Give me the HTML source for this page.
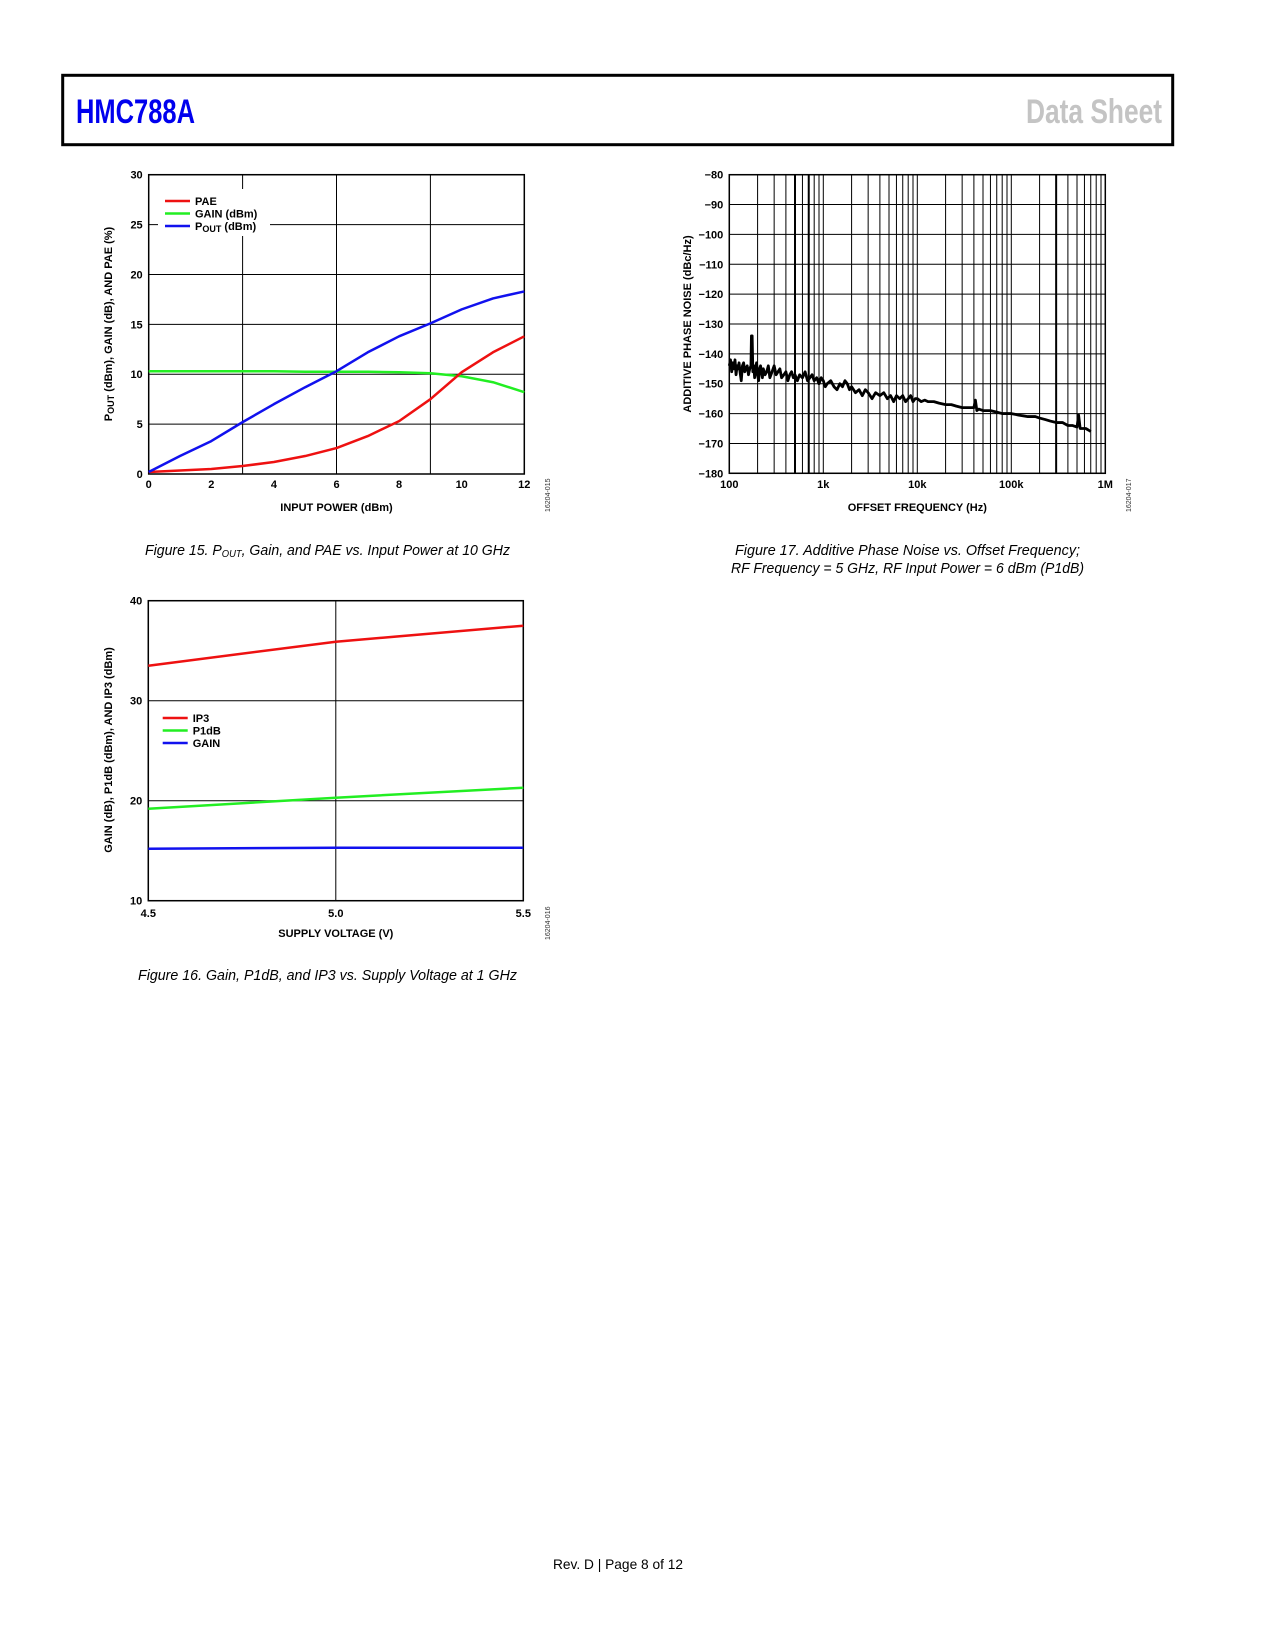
<!DOCTYPE html>
<html><head><meta charset="utf-8"><style>
html,body{margin:0;padding:0;background:#fff}
svg{display:block}
text{font-family:"Liberation Sans",sans-serif}
.tk{font-size:11px;font-weight:bold}
.cap{font-size:15px;font-style:italic}
</style></head><body>
<svg id="page" width="1275" height="1650" viewBox="0 0 1275 1650" xmlns="http://www.w3.org/2000/svg">
<rect x="62.7" y="75.3" width="1110" height="69.4" fill="none" stroke="#000" stroke-width="3"/>
<text x="76" y="123" font-size="34" font-weight="bold" fill="#0000ee" textLength="119" lengthAdjust="spacingAndGlyphs">HMC788A</text>
<text x="1026" y="123" font-size="34" font-weight="bold" fill="#c4c4c4" textLength="136" lengthAdjust="spacingAndGlyphs">Data Sheet</text>

<text class="cap" x="145" y="555" textLength="365" lengthAdjust="spacingAndGlyphs">Figure 15. P<tspan font-size="10" dy="2">OUT</tspan><tspan dy="-2">, Gain, and PAE vs. Input Power at 10 GHz</tspan></text>
<text class="cap" x="735" y="555" textLength="345" lengthAdjust="spacingAndGlyphs">Figure 17. Additive Phase Noise vs. Offset Frequency;</text>
<text class="cap" x="731" y="573" textLength="353" lengthAdjust="spacingAndGlyphs">RF Frequency = 5 GHz, RF Input Power = 6 dBm (P1dB)</text>
<text class="cap" x="138" y="980" textLength="379" lengthAdjust="spacingAndGlyphs">Figure 16. Gain, P1dB, and IP3 vs. Supply Voltage at 1 GHz</text>
<text x="553" y="1569" font-size="14" textLength="130" lengthAdjust="spacingAndGlyphs">Rev. D | Page 8 of 12</text>

<g id="c1"></g>
<g id="c2"></g>
<g id="c3"></g>
</svg>
<script>
// ---- Chart 1 data ----
const c1X = [0,1,2,3,4,5,6,7,8,9,10,11,12];
const c1Pout = [0.2,1.8,3.3,5.2,7.0,8.7,10.3,12.2,13.8,15.1,16.5,17.6,18.3];
const c1Pae = [0.2,0.35,0.5,0.8,1.2,1.8,2.6,3.8,5.3,7.5,10.2,12.2,13.8];
const c1Gain = [10.3,10.3,10.3,10.3,10.3,10.25,10.25,10.25,10.2,10.1,9.8,9.2,8.2];
const c1XTicks = [0,2,4,6,8,10,12];
const c1YTicks = [0,5,10,15,20,25,30];
const c1XGrid = [3,6,9];
// ---- Chart 2 data ----
const c2X = [4.5,5.0,5.5];
const c2Ip3 = [33.5,35.9,37.5];
const c2P1db = [19.2,20.3,21.3];
const c2Gain = [15.2,15.3,15.3];
const c2XTicks = ["4.5","5.0","5.5"];
const c2YTicks = [10,20,30,40];
// ---- Chart 3 data ----
const c3F = [100,103,106,109,112,115,118,121,124,127,130,134,138,142,146,150,155,160,165,170,172,175,178,182,186,190,195,200,205,210,215,220,225,230,240,250,260,270,285,300,315,330,345,360,380,400,420,440,460,480,500,530,560,600,640,680,720,760,800,850,900,950,1000,1050,1100,1200,1300,1400,1500,1600,1700,1800,1900,2000,2200,2400,2600,2800,3000,3300,3600,4000,4400,4800,5200,5600,6000,6500,7000,7500,8000,8500,9000,9500,10000,11000,12000,13000,15000,17000,20000,23000,26000,30000,35000,40000,41500,43000,45000,50000,60000,70000,80000,100000,120000,150000,180000,200000,230000,260000,300000,350000,400000,450000,500000,520000,540000,580000,620000,660000,700000];
const c3N = [-144,-142,-146,-143,-145,-142,-147,-144,-145,-143,-146,-149,-144,-143,-146,-145,-144,-147,-145,-144,-134,-134,-146,-144,-148,-145,-143,-147,-149,-145,-144,-146,-148,-145,-147,-146,-144,-148,-146,-144,-147,-146,-145,-148,-147,-146,-149,-147,-146,-148,-147,-149,-147,-148,-146,-149,-148,-147,-149,-148,-150,-148,-149,-151,-150,-149,-151,-152,-150,-151,-149,-150,-152,-151,-153,-152,-154,-152,-153,-155,-153,-154,-153,-155,-154,-156,-154,-155,-154,-156,-155,-154,-156,-155,-155,-156,-155.5,-156,-156,-156.5,-157,-157,-157.5,-158,-158,-158,-155.5,-159,-158.5,-159,-159,-159.5,-160,-160,-160.5,-161,-161,-161.5,-162,-162.5,-163,-163,-164,-164,-164.5,-160.5,-165,-165,-165,-165.5,-166];
const c3XTicks = [100,1000,10000,100000,1000000];
const c3XLabels = ["100","1k","10k","100k","1M"];
const c3YTicks = [-80,-90,-100,-110,-120,-130,-140,-150,-160,-170,-180];

const NS = "http://www.w3.org/2000/svg";
function mk(parent, tag, attrs, txt){
  const e = document.createElementNS(NS, tag);
  for (const k in attrs) e.setAttribute(k, attrs[k]);
  if (txt !== undefined) e.textContent = txt;
  parent.appendChild(e);
  return e;
}
function lin(d0,d1,r0,r1){return v=>r0+(v-d0)*(r1-r0)/(d1-d0);}
function lg(d0,d1,r0,r1){return v=>r0+(Math.log10(v)-Math.log10(d0))*(r1-r0)/(Math.log10(d1)-Math.log10(d0));}
function path(g, xs, ys, sx, sy, color, w, name){
  let d = xs.map((x,i)=>(i?"L":"M")+sx(x).toFixed(2)+","+sy(ys[i]).toFixed(2)).join("");
  const p = mk(g,"path",{d:d,fill:"none",stroke:color,"stroke-width":w,"stroke-linejoin":"round"});
  
  
}
function txt(g, x, y, s, anchor, name, extra){
  const t = mk(g,"text",Object.assign({x:x,y:y,"text-anchor":anchor||"start","class":"tk"},extra||{}),s);
  
  
  return t;
}
function legend(g, x, y, items){
  items.forEach((it,i)=>{
    const l = mk(g,"line",{x1:x,x2:x+25,y1:y+i*12.5-4,y2:y+i*12.5-4,stroke:it[1],"stroke-width":2.5});
    
    
    const t = txt(g, x+30, y+i*12.5, "", "start", "legend-label");
    if (it[0]==="POUT") { t.textContent="P"; mk(t,"tspan",{"font-size":"9",dy:"2"},"OUT"); mk(t,"tspan",{dy:"-2"}," (dBm)"); }
    else t.textContent = it[0];
  });
}

// ===== Chart 1 =====
(function(){
  const g = document.getElementById("c1");
  const L=148.7,R=524.3,T=174.7,B=474;
  const sx=lin(0,12,L,R), sy=lin(0,30,B,T);
  c1YTicks.forEach(v=>{ const l=mk(g,"line",{x1:L,x2:R,y1:sy(v),y2:sy(v),stroke:"#000","stroke-width":1});
     
    txt(g,L-6,sy(v)+4,String(v),"end","y-tick-label"); });
  c1XGrid.forEach(v=>{ const l=mk(g,"line",{x1:sx(v),x2:sx(v),y1:T,y2:B,stroke:"#000","stroke-width":1});
      });
  c1XTicks.forEach(v=>txt(g,sx(v),488,String(v),"middle","x-tick-label"));
  const bg=mk(g,"rect",{x:158,y:189,width:112,height:47,fill:"#fff"});
   
  const fr=mk(g,"rect",{x:L,y:T,width:R-L,height:B-T,fill:"none",stroke:"#000","stroke-width":1.5});
   
  path(g,c1X,c1Gain,sx,sy,"#22ee22",2.5,"gain-line");
  path(g,c1X,c1Pae,sx,sy,"#ee1111",2.5,"pae-line");
  path(g,c1X,c1Pout,sx,sy,"#1111ee",2.5,"pout-line");
  legend(g,165,205,[["PAE","#ee1111"],["GAIN (dBm)","#22ee22"],["POUT","#1111ee"]]);
  txt(g,(L+R)/2,511,"INPUT POWER (dBm)","middle","x-axis-title");
  const yt=txt(g,0,0,"","middle","y-axis-title",{transform:"translate(112,324) rotate(-90)"});
  yt.textContent="P"; mk(yt,"tspan",{"font-size":"9",dy:"2"},"OUT"); mk(yt,"tspan",{dy:"-2"}," (dBm), GAIN (dB), AND PAE (%)");
  const id=mk(g,"text",{x:0,y:0,"font-size":"7",transform:"translate(550,512) rotate(-90)",fill:"#333"},"16204-015");
   
})();

// ===== Chart 2 =====
(function(){
  const g = document.getElementById("c2");
  const L=148.3,R=523.3,T=600.7,B=900.7;
  const sx=lin(4.5,5.5,L,R), sy=lin(10,40,B,T);
  c2YTicks.forEach(v=>{ const l=mk(g,"line",{x1:L,x2:R,y1:sy(v),y2:sy(v),stroke:"#000","stroke-width":1});
     
    txt(g,L-6,sy(v)+4,String(v),"end","y-tick-label"); });
  c2XTicks.forEach(s=>{ const v=parseFloat(s);
    const l=mk(g,"line",{x1:sx(v),x2:sx(v),y1:T,y2:B,stroke:"#000","stroke-width":1});
     
    txt(g,sx(v),917,s,"middle","x-tick-label"); });
  const fr=mk(g,"rect",{x:L,y:T,width:R-L,height:B-T,fill:"none",stroke:"#000","stroke-width":1.5});
   
  path(g,c2X,c2Ip3,sx,sy,"#ee1111",2.5,"ip3-line");
  path(g,c2X,c2P1db,sx,sy,"#22ee22",2.5,"p1db-line");
  path(g,c2X,c2Gain,sx,sy,"#1111ee",2.5,"gain-line");
  legend(g,162.7,722,[["IP3","#ee1111"],["P1dB","#22ee22"],["GAIN","#1111ee"]]);
  txt(g,(L+R)/2,937,"SUPPLY VOLTAGE (V)","middle","x-axis-title");
  txt(g,0,0,"GAIN (dB), P1dB (dBm), AND IP3 (dBm)","middle","y-axis-title",{transform:"translate(112,750) rotate(-90)"});
  const id=mk(g,"text",{x:0,y:0,"font-size":"7",transform:"translate(550,940) rotate(-90)",fill:"#333"},"16204-016");
   
})();

// ===== Chart 3 =====
(function(){
  const g = document.getElementById("c3");
  const L=729.3,R=1105.3,T=174.7,B=473.3;
  const sx=lg(100,1e6,L,R), sy=lin(-180,-80,B,T);
  c3YTicks.forEach(v=>{ const l=mk(g,"line",{x1:L,x2:R,y1:sy(v),y2:sy(v),stroke:"#000","stroke-width":1});
     
    txt(g,L-6,sy(v)+4,"\u2212"+Math.abs(v),"end","y-tick-label"); });
  for (let d=100; d<1e6; d*=10){
    for (let m=1; m<10; m++){
      const v=d*m; const thick=(v===500||v===700||v===300000);
      const l=mk(g,"line",{x1:sx(v),x2:sx(v),y1:T,y2:B,stroke:"#000","stroke-width":thick?2:1});
       
    }
  }
  c3XTicks.forEach((v,i)=>txt(g,sx(v),488,c3XLabels[i],"middle","x-tick-label"));
  const fr=mk(g,"rect",{x:L,y:T,width:R-L,height:B-T,fill:"none",stroke:"#000","stroke-width":1.5});
   
  path(g,c3F,c3N,sx,sy,"#000",2.8,"phase-noise-trace");
  txt(g,(L+R)/2,511,"OFFSET FREQUENCY (Hz)","middle","x-axis-title");
  txt(g,0,0,"ADDITIVE PHASE NOISE (dBc/Hz)","middle","y-axis-title",{transform:"translate(691,324) rotate(-90)"});
  const id=mk(g,"text",{x:0,y:0,"font-size":"7",transform:"translate(1131,512) rotate(-90)",fill:"#333"},"16204-017");
   
})();
</script>
</body></html>
